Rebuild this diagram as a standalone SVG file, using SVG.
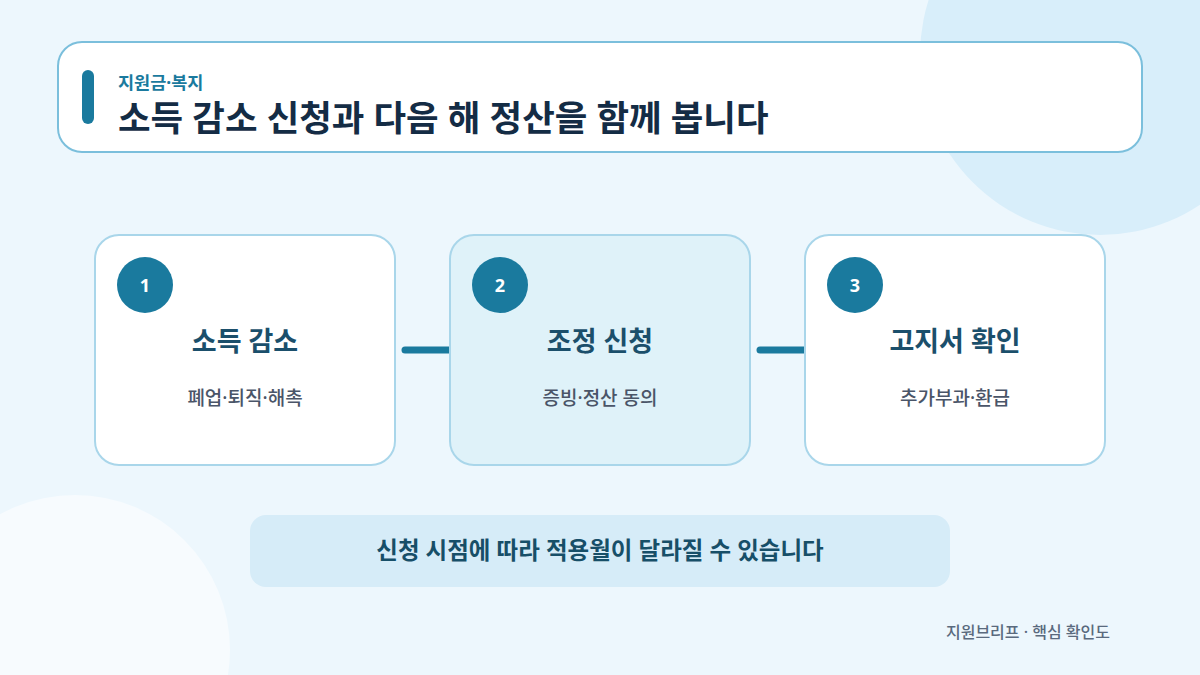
<svg xmlns="http://www.w3.org/2000/svg" width="1200" height="675" viewBox="0 0 1200 675">
<style>
text{font-family:"Noto Sans","Noto Sans CJK KR",sans-serif}
.card{stroke:#a9d6ea;stroke-width:2}
.badge{fill:#1a7a9e}
.num{fill:#fff;font-size:18px;font-weight:700;text-anchor:middle}
.ttl{fill:#1b4f6b;font-size:27px;font-weight:700;text-anchor:middle}
.sub{fill:#4a5568;font-size:19px;font-weight:500;text-anchor:middle}
.conn{stroke:#1a7a9e;stroke-width:7;stroke-linecap:round}
</style>
<rect width="1200" height="675" fill="#edf7fd"/>
<circle cx="1100" cy="55" r="180" fill="#d8eefa"/>
<circle cx="75" cy="650" r="155" fill="#f7fbfe"/>
<g id="header">
<rect x="58" y="42" width="1084" height="110" rx="24" fill="#fff" stroke="#7bbfdc" stroke-width="2"/>
<rect x="82" y="70" width="12" height="54" rx="6" fill="#1a7a9e"/>
<text x="118" y="89" font-size="17.5" font-weight="700" fill="#1a7a9e">지원금·복지</text>
<text x="118" y="131" font-size="35.4" font-weight="700" fill="#142c45">소득 감소 신청과 다음 해 정산을 함께 봅니다</text>
</g>
<g id="connectors">
<line class="conn" x1="405" y1="350" x2="452" y2="350"/>
<line class="conn" x1="760" y1="350" x2="807" y2="350"/>
</g>
<g id="node1">
<rect class="card" x="95" y="235" width="300" height="230" rx="24" fill="#fff"/>
<circle class="badge" cx="145" cy="285" r="28"/>
<text class="num" x="145" y="292">1</text>
<text class="ttl" x="245" y="351">소득 감소</text>
<text class="sub" x="245" y="405">폐업·퇴직·해촉</text>
</g>
<g id="node2">
<rect class="card" x="450" y="235" width="300" height="230" rx="24" fill="#dff2f9"/>
<circle class="badge" cx="500" cy="285" r="28"/>
<text class="num" x="500" y="292">2</text>
<text class="ttl" x="600" y="351">조정 신청</text>
<text class="sub" x="600" y="405">증빙·정산 동의</text>
</g>
<g id="node3">
<rect class="card" x="805" y="235" width="300" height="230" rx="24" fill="#fff"/>
<circle class="badge" cx="855" cy="285" r="28"/>
<text class="num" x="855" y="292">3</text>
<text class="ttl" x="955" y="351">고지서 확인</text>
<text class="sub" x="955" y="405">추가부과·환급</text>
</g>
<g id="note">
<rect x="250" y="515" width="700" height="72" rx="16" fill="#d6ecf8"/>
<text x="600" y="559" font-size="23.5" font-weight="700" fill="#174f68" text-anchor="middle">신청 시점에 따라 적용월이 달라질 수 있습니다</text>
</g>
<text x="1110" y="638" font-size="16" font-weight="500" fill="#5a6a7e" text-anchor="end">지원브리프 · 핵심 확인도</text>
</svg>
